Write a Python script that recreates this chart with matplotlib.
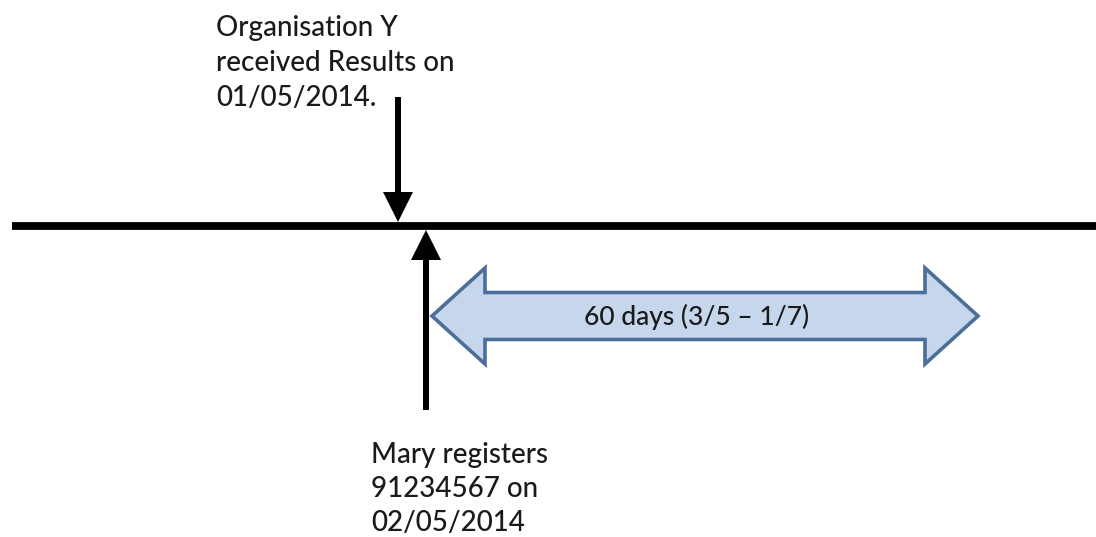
import matplotlib.pyplot as plt
from matplotlib.patches import FancyArrow, Polygon

plt.rcParams['font.family'] = ['Lato', 'DejaVu Sans']

# Texts of the timeline
top_label = ['Organisation Y', 'received Results on', '01/05/2014.']
bottom_label = ['Mary registers', '91234567 on', '02/05/2014']
span_label = '60 days (3/5 \u2013 1/7)'

W, H = 1096, 537
fig = plt.figure(figsize=(W / 100, H / 100), dpi=100)
ax = fig.add_axes([0, 0, 1, 1])
ax.set_xlim(0, W)
ax.set_ylim(H, 0)
ax.axis('off')

# timeline
line_y = 226
ax.plot([12, W], [line_y, line_y], color='black', lw=5.6, solid_capstyle='butt')

# arrow from above (results received)
ax.add_patch(FancyArrow(398, 97, 0, 125, width=6, head_width=30, head_length=30,
                        length_includes_head=True, color='black', lw=0))
# arrow from below (registration)
ax.add_patch(FancyArrow(426, 410, 0, -180, width=6, head_width=30, head_length=30,
                        length_includes_head=True, color='black', lw=0))

# double-headed span arrow
left, right = 432, 978
mid = 316
body_h, head_h, head_l = 23.5, 48, 53
pts = [
    (left, mid),
    (left + head_l, mid - head_h),
    (left + head_l, mid - body_h),
    (right - head_l, mid - body_h),
    (right - head_l, mid - head_h),
    (right, mid),
    (right - head_l, mid + head_h),
    (right - head_l, mid + body_h),
    (left + head_l, mid + body_h),
    (left + head_l, mid + head_h),
]
ax.add_patch(Polygon(pts, closed=True, facecolor='#c6d6ec', edgecolor='#4b6f99', lw=2.6,
                     joinstyle='miter'))
ax.text(697, mid + 1, span_label, ha='center', va='center',
        fontsize=19, fontweight='medium', color='#1a1a1a')

for i, s in enumerate(top_label):
    ax.text(216, 28 + i * 35, s, ha='left', va='center', fontsize=20,
            fontweight='medium', color='#1a1a1a')
for i, s in enumerate(bottom_label):
    ax.text(371, 455 + i * 34, s, ha='left', va='center', fontsize=20,
            fontweight='medium', color='#1a1a1a')

fig.savefig('out.png', dpi=100)
